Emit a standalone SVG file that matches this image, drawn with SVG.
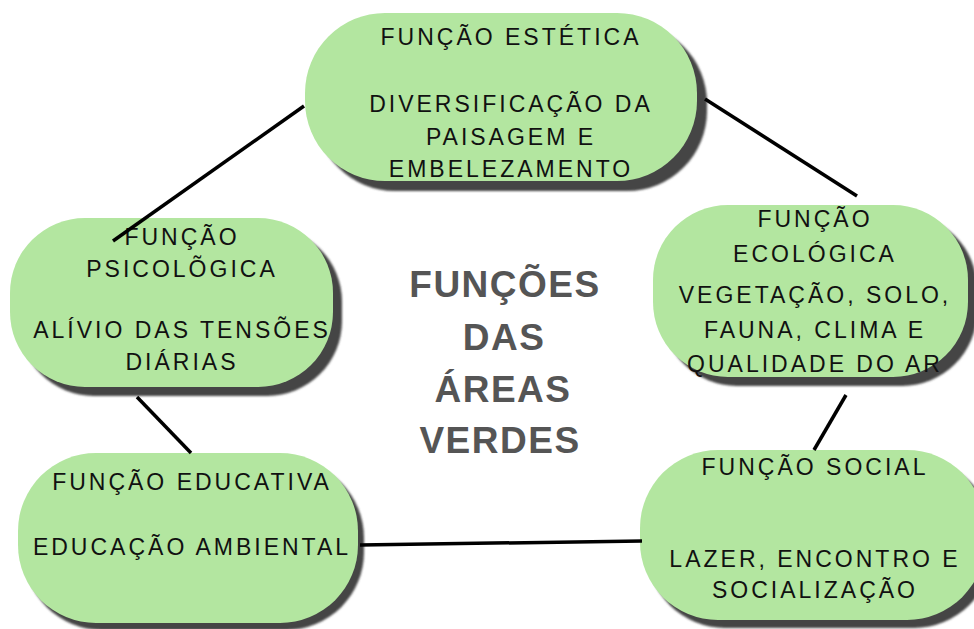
<svg xmlns="http://www.w3.org/2000/svg" width="974" height="629" viewBox="0 0 974 629">
<defs>
<filter id="blur" x="-10%" y="-10%" width="120%" height="120%"><feGaussianBlur stdDeviation="1"/></filter>
<style>
.shadow{fill:#444;filter:url(#blur)}
.box{fill:#b3e6a0}
.t{font-family:"Liberation Sans",Arial,sans-serif;font-size:23px;letter-spacing:3px;fill:#111;text-anchor:middle}
.c{font-family:"Liberation Sans",Arial,sans-serif;font-size:37px;font-weight:bold;letter-spacing:1.5px;fill:#555;text-anchor:middle}
.edge{stroke:#000;stroke-width:3.5;fill:none}
</style>
</defs>
<rect width="974" height="629" fill="#fff"/>
<g id="estetica">
<rect class="shadow" x="315" y="23" width="392" height="168" rx="80" ry="80"/>
<rect class="box" x="305" y="13" width="392" height="168" rx="80" ry="80"/>
<text class="t" x="511" y="45">FUNÇÃO ESTÉTICA</text>
<text class="t" x="511" y="112">DIVERSIFICAÇÃO DA</text>
<text class="t" x="511" y="145">PAISAGEM E</text>
<text class="t" x="511" y="177">EMBELEZAMENTO</text>
</g>
<g id="psicologica">
<rect class="shadow" x="19" y="227" width="323" height="169" rx="75" ry="75"/>
<rect class="box" x="10" y="218" width="323" height="169" rx="75" ry="75"/>
<text class="t" x="182" y="245">FUNÇÃO</text>
<text class="t" x="182" y="277">PSICOLÕGICA</text>
<text class="t" x="182" y="338">ALÍVIO DAS TENSÕES</text>
<text class="t" x="182" y="370">DIÁRIAS</text>
</g>
<g id="ecologica">
<rect class="shadow" x="662" y="214" width="315" height="172" rx="75" ry="75"/>
<rect class="box" x="653" y="205" width="315" height="172" rx="75" ry="75"/>
<text class="t" x="815" y="227">FUNÇÃO</text>
<text class="t" x="815" y="262">ECOLÓGICA</text>
<text class="t" x="815" y="303">VEGETAÇÃO, SOLO,</text>
<text class="t" x="815" y="338">FAUNA, CLIMA E</text>
<text class="t" x="815" y="372">QUALIDADE DO AR</text>
</g>
<g id="educativa">
<rect class="shadow" x="24" y="460" width="340" height="170" rx="78" ry="78"/>
<rect class="box" x="18" y="453" width="340" height="170" rx="78" ry="78"/>
<text class="t" x="192" y="490">FUNÇÃO EDUCATIVA</text>
<text class="t" x="192" y="555">EDUCAÇÃO AMBIENTAL</text>
</g>
<g id="social">
<rect class="shadow" x="647" y="458" width="345" height="170" rx="78" ry="78"/>
<rect class="box" x="640" y="450" width="345" height="170" rx="78" ry="78"/>
<text class="t" x="815" y="475">FUNÇÃO SOCIAL</text>
<text class="t" x="815" y="567">LAZER, ENCONTRO E</text>
<text class="t" x="815" y="598">SOCIALIZAÇÃO</text>
</g>
<g id="center">
<text class="c" x="505" y="297">FUNÇÕES</text>
<text class="c" x="504" y="350">DAS</text>
<text class="c" x="503" y="402">ÁREAS</text>
<text class="c" x="500" y="453">VERDES</text>
</g>
<g id="connectors">
<line class="edge" x1="304" y1="106" x2="113" y2="241"/>
<line class="edge" x1="705" y1="99" x2="857" y2="196"/>
<line class="edge" x1="846" y1="395" x2="814" y2="450"/>
<line class="edge" x1="137" y1="397" x2="191" y2="453"/>
<line class="edge" x1="360" y1="545" x2="642" y2="541"/>
</g>
</svg>
